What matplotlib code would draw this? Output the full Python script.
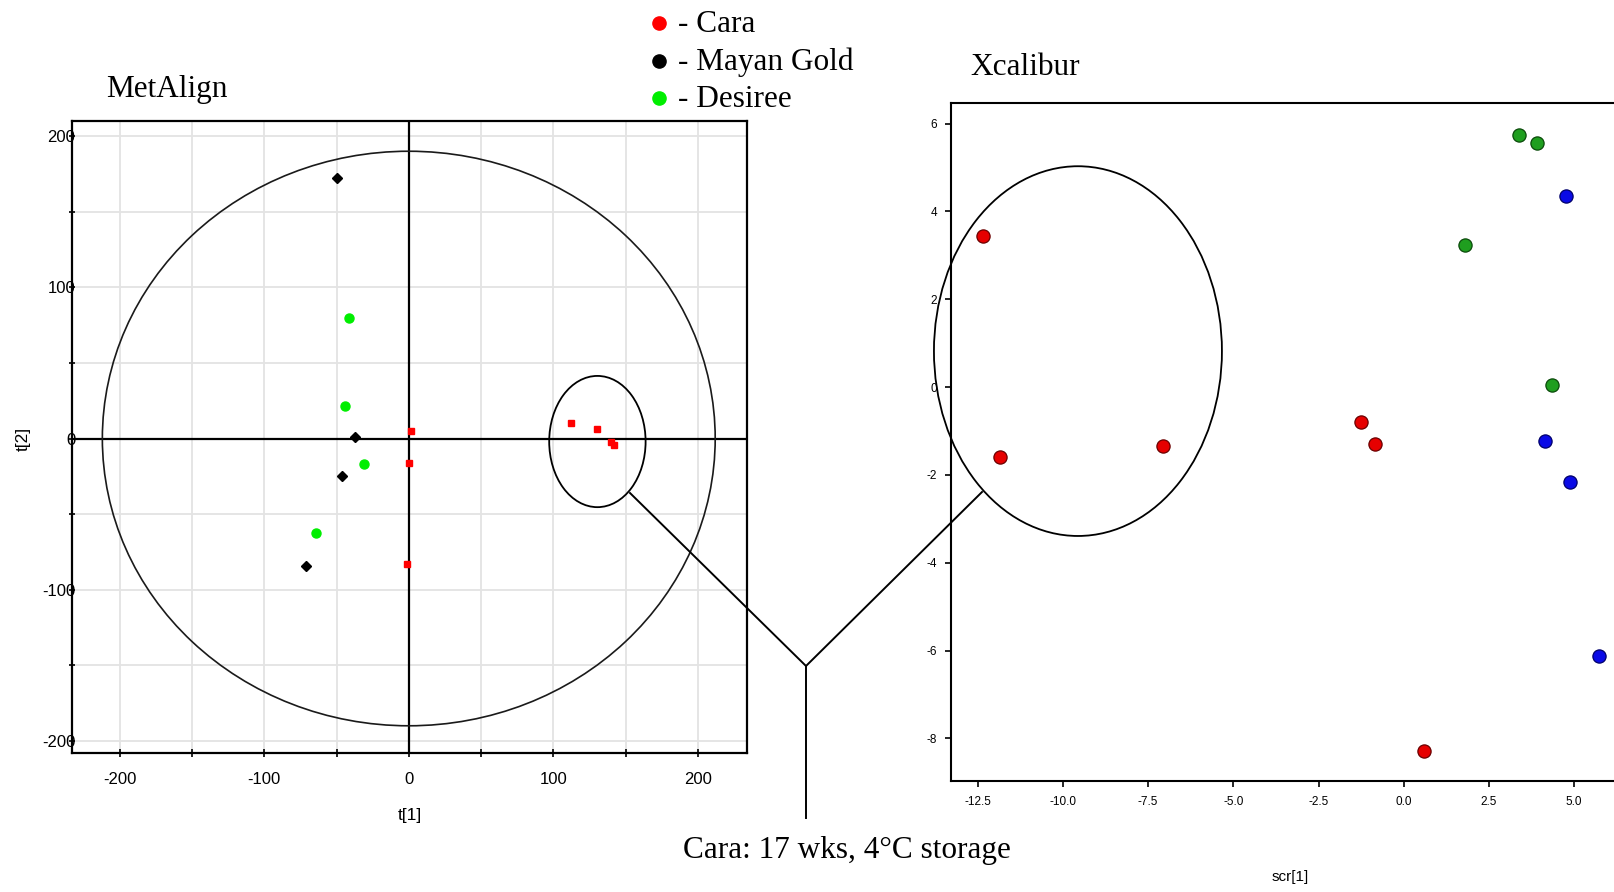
import matplotlib
matplotlib.use("Agg")
import matplotlib.pyplot as plt
from matplotlib.lines import Line2D
from matplotlib.patches import Ellipse
import numpy as np

# ---- MetAlign PCA scores (t[1], t[2]) ----
cara_t1 = [1.5, 0.0, -1.3, 112, 130, 140, 142]
cara_t2 = [5, -16, -83, 10, 6, -2, -4.5]
mayan_t1 = [-50, -37.5, -46.5, -70.8]
mayan_t2 = [172, 1.3, -24.5, -84]
desiree_t1 = [-41.7, -44.4, -31.3, -63.9]
desiree_t2 = [79.5, 21.2, -16.6, -62.3]

# ---- Xcalibur PCA scores (scr[1], scr[2]) ----
cara_s1 = [-12.34, -11.85, -7.06, -1.24, -0.83, 0.60]
cara_s2 = [3.45, -1.59, -1.34, -0.80, -1.30, -8.29]
desiree_s1 = [3.38, 3.92, 1.80, 4.36]
desiree_s2 = [5.74, 5.55, 3.23, 0.05]
mayan_s1 = [4.77, 4.13, 4.89, 5.72]
mayan_s2 = [4.36, -1.23, -2.15, -6.13]

left_xticks = [-200, -100, 0, 100, 200]
left_yticks = [-200, -100, 0, 100, 200]
right_xticks = [-12.5, -10.0, -7.5, -5.0, -2.5, 0.0, 2.5, 5.0]
right_yticks = [-8, -6, -4, -2, 0, 2, 4, 6]

legend_names = ["- Cara", "- Mayan Gold", "- Desiree"]
legend_colors = ["#ff0000", "#000000", "#00ee00"]

W, H = 1615, 892
fig = plt.figure(figsize=(W / 100, H / 100), dpi=100)
fig.patch.set_facecolor("white")


def fx(px):
    return px / W


def fy(py):
    return 1 - py / H


serif = ["Liberation Serif", "DejaVu Serif"]
sans = ["Liberation Sans", "DejaVu Sans"]

# ================= MetAlign score plot =================
axL = fig.add_axes([fx(72), fy(753), (747 - 72) / W, (753 - 121) / H])
axL.set_xlim(-233, 234)
axL.set_ylim(-208, 210)
grid50 = np.arange(-200, 201, 50)
for g in grid50:
    axL.axvline(g, color="#e3e3e3", lw=1.3, zorder=0)
    axL.axhline(g, color="#e3e3e3", lw=1.3, zorder=0)
axL.axhline(0, color="black", lw=1.6, zorder=1)
axL.axvline(0, color="black", lw=1.6, zorder=1)
axL.add_patch(Ellipse((0, 0), 424, 380, fill=False, ec="#1a1a1a", lw=1.2, zorder=2))

axL.set_xticks(grid50)
axL.set_xticklabels([str(v) if v in left_xticks else "" for v in grid50], family=sans, fontsize=12)
axL.set_yticks(grid50)
axL.set_yticklabels([str(v) if v in left_yticks else "" for v in grid50], family=sans, fontsize=12)
axL.tick_params(axis="x", direction="inout", length=6, width=1.2, pad=11, colors="black")
axL.tick_params(axis="y", direction="inout", length=4, width=1.2, pad=-4.5, colors="black")
for s in axL.spines.values():
    s.set_linewidth(1.6)

axL.plot(cara_t1, cara_t2, ls="none", marker="s", ms=5, mfc="#ff0000", mec="#ff0000", zorder=4)
axL.plot(mayan_t1, mayan_t2, ls="none", marker="D", ms=5, mfc="black", mec="black", zorder=4)
axL.plot(desiree_t1, desiree_t2, ls="none", marker="o", ms=6.5, mfc="#00ee00", mec="#00ee00", zorder=4)

# zoom ellipse around the separated Cara group
axL.add_patch(Ellipse((130.5, -2), 66.7, 86.8, fill=False, ec="black", lw=1.3, zorder=5, clip_on=False))

axL.set_xlabel("t[1]", family=sans, fontsize=12.5, labelpad=15)
fig.text(fx(23), fy(439), "t[2]", rotation=90, ha="center", va="center", family=sans, fontsize=12.5)

# ================= Xcalibur score plot =================
axR = fig.add_axes([fx(951.5), fy(781), (1628 - 951.5) / W, (781 - 103) / H])
axR.set_xlim(-13.27, 6.58)
axR.set_ylim(-8.97, 6.47)
axR.set_xticks(right_xticks)
axR.set_xticklabels([f"{v:.1f}" for v in right_xticks], family=sans, fontsize=8.5)
axR.set_yticks(right_yticks)
axR.set_yticklabels([str(v) for v in right_yticks], family=sans, fontsize=8.5)
axR.tick_params(direction="out", length=4.5, width=1.2, pad=6, colors="black")
for s in axR.spines.values():
    s.set_linewidth(1.5)

axR.plot(cara_s1, cara_s2, ls="none", marker="o", ms=9.5, mfc="#e60000", mec="#6a0000", mew=0.9, zorder=4)
axR.plot(desiree_s1, desiree_s2, ls="none", marker="o", ms=9.5, mfc="#1f9e1f", mec="#0a4a0a", mew=0.9, zorder=4)
axR.plot(mayan_s1, mayan_s2, ls="none", marker="o", ms=9.5, mfc="#0a0ae6", mec="#00006a", mew=0.9, zorder=4)

axR.add_patch(Ellipse((-9.56, 0.82), 8.45, 8.42, fill=False, ec="black", lw=1.3, zorder=5, clip_on=False))
axR.set_xlabel("scr[1]", family=sans, fontsize=11, labelpad=45)

# ================= connector lines and annotations =================
apex = (806, 666)
for pts in ([(630, 493), apex, (982, 492)], [apex, (806, 818)]):
    xs = [fx(p[0]) for p in pts]
    ys = [fy(p[1]) for p in pts]
    fig.add_artist(Line2D(xs, ys, transform=fig.transFigure, color="black", lw=1.4))

fig.text(fx(106), fy(97), "MetAlign", family=serif, fontsize=22.5, ha="left", va="baseline")
fig.text(fx(970), fy(75), "Xcalibur", family=serif, fontsize=22.5, ha="left", va="baseline")
fig.text(fx(683), fy(858), "Cara: 17 wks, 4\u00b0C storage", family=serif, fontsize=22.5,
         ha="left", va="baseline")

legend_rows = [23, 61, 98]
for name, col, cy in zip(legend_names, legend_colors, legend_rows):
    fig.add_artist(Line2D([fx(659)], [fy(cy)], transform=fig.transFigure, ls="none",
                          marker="o", ms=9.5, mfc=col, mec=col))
    fig.text(fx(678), fy(cy + 9), name, family=serif, fontsize=22.5, ha="left", va="baseline")

fig.savefig("out.png", dpi=100, facecolor="white")
